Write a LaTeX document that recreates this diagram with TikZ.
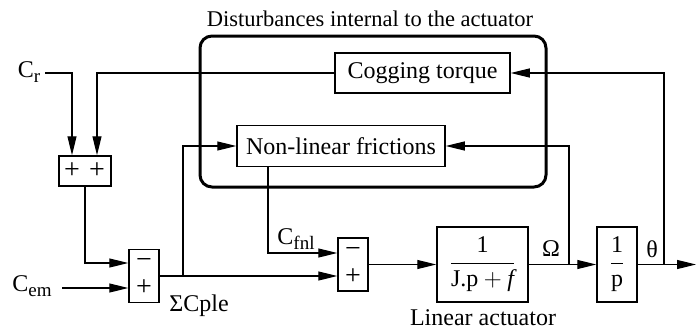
\documentclass[tikz,border=0pt]{standalone}
\usepackage{amsmath}
\usepackage{fontspec}
\setmainfont{Liberation Serif}
\usetikzlibrary{positioning,arrows.meta}

% lowered index for torque names
\newcommand{\lowsub}[1]{\raisebox{-5pt}{\fontsize{19}{20}\selectfont #1}}

\begin{document}
\begin{tikzpicture}[x=1pt,y=1pt,line width=1.2pt,
  font=\fontsize{24}{28}\selectfont,
  >={Triangle[length=19pt,width=9pt]},
  blk/.style={rectangle,draw,line width=1.5pt,inner sep=0pt},
  sumblk/.style={blk,minimum width=30pt,minimum height=53pt},
  sgn/.style={inner sep=0pt,font=\fontsize{28}{30}\selectfont}]
\useasboundingbox (0,0) rectangle (696,333);

% group of internal disturbances
\draw[line width=3pt,rounded corners=12pt] (200,146) rectangle (546,297);
\node[font=\fontsize{22.5}{26}\selectfont] (title) at (370,314) {Disturbances internal to the actuator};
\node[blk,minimum width=175pt,minimum height=40pt] (cog) at (422.5,260) {Cogging torque};
\node[blk,minimum width=208pt,minimum height=41pt] (fric) at (341,187) {Non-linear frictions};

% summing blocks
\node[blk,minimum width=52pt,minimum height=30pt] (sum1) at (85,162) {};
\node[sgn] (s1a) at (72,162) {+};
\node[sgn] (s1b) at (97,162) {+};
\node[sumblk] (sum2) at (144,57) {};
\node[sgn] (s2m) at (144,70) {−};
\node[sgn] (s2p) at (144,45) {+};
\node[sumblk] (sum3) at (353,68.5) {};
\node[sgn] (s3m) at (353,80) {−};
\node[sgn] (s3p) at (353,56.5) {+};

% linear part
\node[blk,minimum width=91pt,minimum height=75pt] (tf) at (482.5,68.5) {$\dfrac{\text{1}}{\text{J.p} + \textit{f}}$};
\node[blk,minimum width=40pt,minimum height=75pt] (integ) at (617,68.5) {$\dfrac{\text{1}}{\text{p}}$};

% labels
\node (cr) at (29,261) {C\lowsub{r}};
\node (cem) at (32,47) {C\lowsub{em}};
\node (cple) at (199,27) {ΣCple};
\node (cfnl) at (296,94) {C\lowsub{fnl}};
\node (om) at (551,84) {Ω};
\node (th) at (652,84) {θ};
\node (linlab) at (483,15) {Linear actuator};

\coordinate (crout) at (45,260);
\coordinate (cemout) at (62,45);
\coordinate (b1) at (183,57);
\coordinate (b2) at (569,68.5);
\coordinate (b3) at (664,68.5);
\coordinate (outp) at (696,68.5);

\draw[->] (crout) -| ([xshift=-13pt]sum1.north);
\draw[->] (cog.west) -| ([xshift=12pt]sum1.north);
\draw[->] (sum1.south) |- (sum2.west |- s2m);
\draw[->] (cemout) -- (sum2.west |- s2p);
\draw[->] (sum2.east) -- (sum3.west |- sum2.east);
\draw[->] (b1) |- (fric.west);
\draw[->] ([xshift=-73pt]fric.south) |- (sum3.west |- s3m);
\draw[->] (sum3) -- (tf);
\draw[->] (tf) -- (integ);
\draw[->] (integ) -- (outp);
\draw[->] (b2) |- (fric.east);
\draw[->] (b3) |- (cog.east);
\end{tikzpicture}
\end{document}
